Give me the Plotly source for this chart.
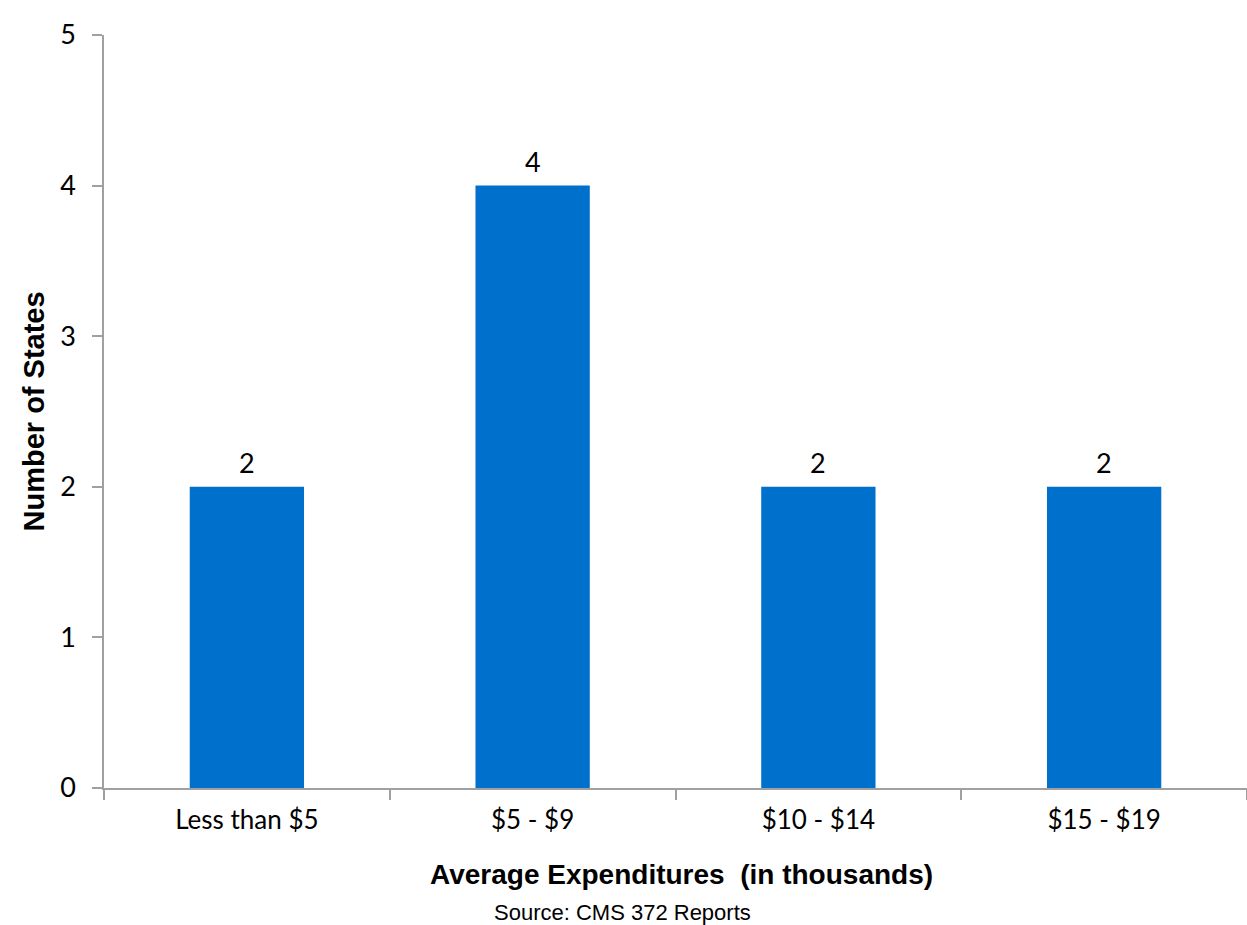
import plotly.graph_objects as go

categories = ["Less than $5", "$5 - $9", "$10 - $14", "$15 - $19"]
states = [2, 4, 2, 2]
y_ticks = [0, 1, 2, 3, 4, 5]

L, R, T, B = 104, 0, 35, 137
W, H = 1247, 925
pw = W - L - R
ph = H - T - B

fig = go.Figure()
fig.add_trace(go.Bar(
    x=categories, y=states,
    marker=dict(color="#0070CD", line=dict(width=0)),
    width=0.4,
    hoverinfo="x+y",
))

label_annotations = [
    dict(text=str(v), x=c, y=v, xref="x", yref="y",
         xanchor="center", yanchor="bottom", yshift=6, showarrow=False,
         font=dict(family="Lato, Open Sans, sans-serif", size=27, color="#000000"))
    for c, v in zip(categories, states)
]

fig.update_layout(
    width=W, height=H,
    margin=dict(l=L, r=R, t=T, b=B, autoexpand=False),
    paper_bgcolor="white", plot_bgcolor="white",
    showlegend=False,
    bargap=0.6,
    xaxis=dict(
        type="category", automargin=False,
        showline=True, linecolor="#A0A0A0", linewidth=1.5,
        ticks="outside", ticklen=10, tickcolor="#A0A0A0", tickwidth=1.5,
        tickson="boundaries", ticklabelstandoff=8,
        tickfont=dict(family="Lato, Open Sans, sans-serif", size=26, color="#000000"),
        showgrid=False, zeroline=False,
    ),
    yaxis=dict(
        range=[0, 5], tickvals=y_ticks, automargin=False,
        showline=True, linecolor="#A0A0A0", linewidth=1.5,
        ticks="outside", ticklen=10, tickcolor="#A0A0A0", tickwidth=1.5,
        ticklabelstandoff=11,
        tickfont=dict(family="Lato, Open Sans, sans-serif", size=27, color="#000000"),
        showgrid=False, zeroline=False,
    ),
    annotations=label_annotations + [
        dict(text="<b>Number of States</b>", x=(33 - L) / pw, y=0.5,
             xref="paper", yref="paper", xanchor="center", yanchor="middle",
             showarrow=False, textangle=-90,
             font=dict(family="Liberation Sans, Arial", size=29, color="#000000")),
        dict(text="<b>Average Expenditures  (in thousands)</b>",
             x=(681 - L) / pw, y=-(875 - (T + ph)) / ph,
             xref="paper", yref="paper", xanchor="center", yanchor="middle",
             showarrow=False,
             font=dict(family="Liberation Sans, Arial", size=28, color="#000000")),
        dict(text="Source: CMS 372 Reports",
             x=(622 - L) / pw, y=-(912 - (T + ph)) / ph,
             xref="paper", yref="paper", xanchor="center", yanchor="middle",
             showarrow=False,
             font=dict(family="Liberation Sans, Arial", size=22, color="#000000")),
    ],
)

fig.write_html("out.html", config={"displayModeBar": False},
               post_script="document.body.style.margin='0';document.body.style.overflow='hidden';")
